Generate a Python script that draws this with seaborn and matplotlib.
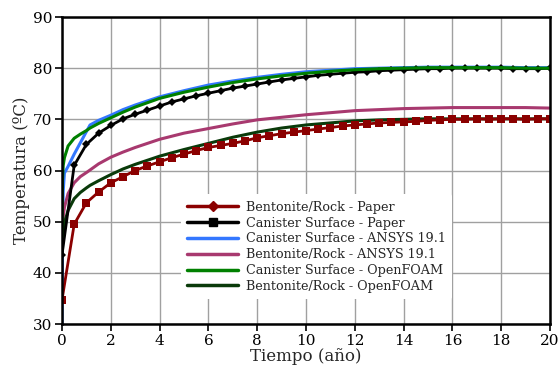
import matplotlib.pyplot as plt
import seaborn as sns
import numpy as np
from matplotlib.lines import Line2D

# time axis for the digitised "Paper" curves (every half year)
t_paper = np.arange(0, 20.5, 0.5)

bentonite_paper = [34.7, 49.5, 53.7, 55.8, 57.6, 58.8, 60.0, 60.9, 61.7, 62.5,
                   63.2, 63.9, 64.5, 64.9, 65.3, 65.8, 66.4, 66.8, 67.2, 67.5,
                   67.8, 68.1, 68.4, 68.7, 68.9, 69.1, 69.3, 69.4, 69.5, 69.6,
                   69.8, 69.9, 70.0, 70.0, 70.1, 70.0, 70.1, 70.1, 70.0, 70.1,
                   70.1]
canister_paper = [43.5, 61.0, 65.1, 67.3, 68.8, 70.1, 71.0, 71.8, 72.6, 73.4,
                  74.0, 74.6, 75.1, 75.6, 76.1, 76.5, 76.9, 77.3, 77.7, 78.0,
                  78.3, 78.6, 78.8, 79.0, 79.2, 79.3, 79.5, 79.6, 79.7, 79.8,
                  79.9, 79.9, 80.0, 80.0, 80.0, 80.0, 80.0, 79.9, 79.9, 79.9,
                  80.0]

# simulation curves
t_sim = [0, 0.02, 0.05, 0.1, 0.25, 0.5, 0.75, 1.0, 1.15, 1.5, 2, 2.5, 3, 4, 5,
         6, 7, 8, 9, 10, 11, 12, 13, 14, 15, 16, 17, 18, 19, 20]
canister_ansys = [30.0, 45.0, 56.0, 59.5, 60.8, 63.2, 65.4, 67.6, 68.9, 69.8,
                  70.8, 71.9, 72.8, 74.4, 75.6, 76.7, 77.5, 78.2, 78.8, 79.3,
                  79.6, 79.9, 80.0, 80.1, 80.2, 80.2, 80.2, 80.2, 80.1, 80.1]
canister_foam = [47.0, 58.0, 61.0, 62.5, 64.8, 66.3, 67.1, 67.8, 68.3, 69.2,
                 70.3, 71.4, 72.4, 74.1, 75.3, 76.3, 77.2, 77.9, 78.5, 79.0,
                 79.4, 79.7, 79.9, 80.0, 80.1, 80.1, 80.1, 80.1, 80.0, 80.0]
bentonite_ansys = [47.0, 49.0, 51.0, 52.8, 55.5, 57.6, 58.8, 59.6, 60.1, 61.3,
                   62.6, 63.6, 64.5, 66.1, 67.3, 68.2, 69.1, 69.9, 70.4, 70.9,
                   71.3, 71.7, 71.9, 72.1, 72.2, 72.3, 72.3, 72.3, 72.3, 72.2]
bentonite_foam = [45.0, 46.5, 48.0, 49.8, 52.2, 54.5, 55.7, 56.6, 57.1, 58.0,
                  59.2, 60.3, 61.2, 62.8, 64.1, 65.3, 66.5, 67.5, 68.3, 68.9,
                  69.3, 69.7, 69.9, 70.0, 70.1, 70.1, 70.1, 70.1, 70.1, 70.1]

labels = ['Bentonite/Rock - Paper', 'Canister Surface - Paper',
          'Canister Surface - ANSYS 19.1', 'Bentonite/Rock - ANSYS 19.1',
          'Canister Surface - OpenFOAM', 'Bentonite/Rock - OpenFOAM']
colors = ['#8b0000', '#000000', '#3377ff', '#a8396f', '#008000', '#0a3a0a']


def plot_temperatures():
    sns.set_style('whitegrid')
    plt.rcParams['font.family'] = ['DejaVu Serif']

    fig = plt.figure(figsize=(5.6, 3.65), dpi=100)
    ax = fig.add_axes([0.1107, 0.1123, 0.8715, 0.8411])

    sns.lineplot(x=t_sim, y=canister_ansys, ax=ax, color=colors[2], lw=2.2)
    sns.lineplot(x=t_sim, y=bentonite_ansys, ax=ax, color=colors[3], lw=2.2)
    sns.lineplot(x=t_sim, y=bentonite_foam, ax=ax, color=colors[5], lw=2.2)
    sns.lineplot(x=t_paper, y=bentonite_paper, ax=ax, color=colors[0], lw=2,
                 marker='s', markersize=5.5, markeredgewidth=0)
    sns.lineplot(x=t_paper, y=canister_paper, ax=ax, color=colors[1], lw=2,
                 marker='D', markersize=4.5, markeredgewidth=0)
    sns.lineplot(x=t_sim, y=canister_foam, ax=ax, color=colors[4], lw=2.2)

    ax.set_xlim(0, 20)
    ax.set_ylim(30, 90)
    ax.set_xticks(np.arange(0, 21, 2))
    ax.set_yticks(np.arange(30, 91, 10))
    ax.grid(True, color='#a0a0a0', lw=1)
    for s in ax.spines.values():
        s.set_color('black')
        s.set_linewidth(1.8)
    ax.tick_params(axis='both', which='both', direction='out', length=5,
                   width=1.2, colors='black', labelsize=11, pad=2,
                   bottom=True, left=True)
    ax.set_xlabel('Tiempo (año)', fontsize=12, labelpad=0)
    ax.set_ylabel('Temperatura (ºC)', fontsize=12, labelpad=2)

    # legend as in the original figure (its markers are swapped there)
    handles = [
        Line2D([], [], color=colors[0], lw=2.5, marker='D', markersize=5),
        Line2D([], [], color=colors[1], lw=2.5, marker='s', markersize=6),
        Line2D([], [], color=colors[2], lw=2.5),
        Line2D([], [], color=colors[3], lw=2.5),
        Line2D([], [], color=colors[4], lw=2.5),
        Line2D([], [], color=colors[5], lw=2.5),
    ]
    ax.legend(handles, labels, loc='lower left',
              bbox_to_anchor=(0.23, 0.06), fontsize=9.2,
              handlelength=4.0, handletextpad=0.6, labelspacing=0.22,
              frameon=True, facecolor='white', edgecolor='none',
              framealpha=1, borderpad=0.5)

    plt.savefig('out.png', dpi=100)


if __name__ == "__main__":
    plot_temperatures()
